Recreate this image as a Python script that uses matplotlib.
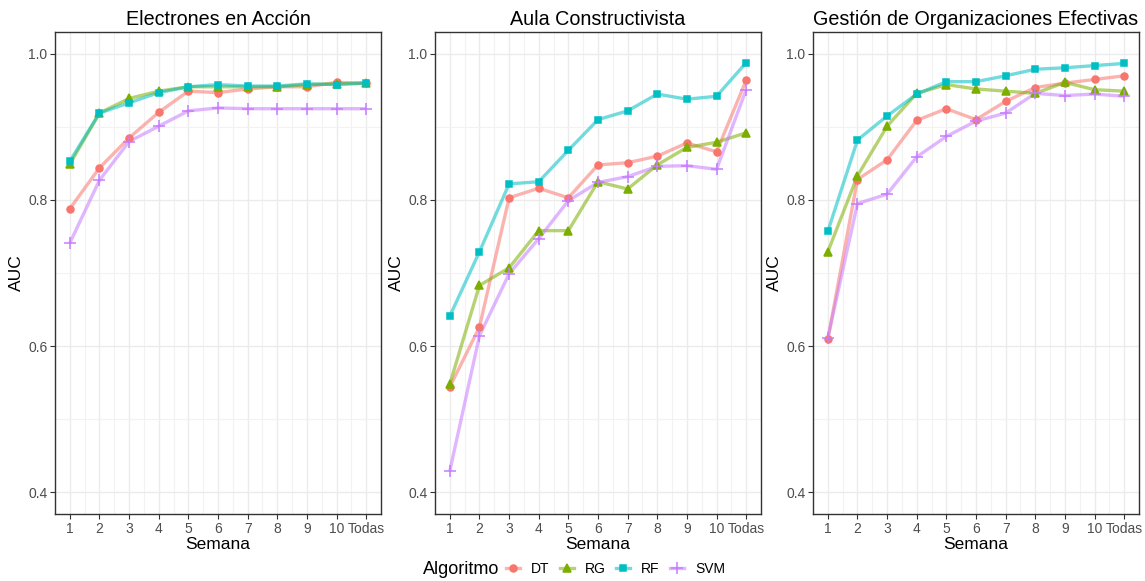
import numpy as np
import matplotlib.pyplot as plt
from matplotlib.lines import Line2D
from matplotlib.ticker import MultipleLocator

plt.rcParams['font.family'] = ['Liberation Sans', 'DejaVu Sans']

semanas = ['1', '2', '3', '4', '5', '6', '7', '8', '9', '10', 'Todas']
algoritmos = ['DT', 'RG', 'RF', 'SVM']
cursos = ['Electrones en Acción', 'Aula Constructivista', 'Gestión de Organizaciones Efectivas']

# AUC por semana, un bloque por curso
electrones_dt  = [0.788, 0.844, 0.885, 0.920, 0.949, 0.947, 0.952, 0.955, 0.955, 0.961, 0.960]
electrones_rg  = [0.849, 0.919, 0.939, 0.949, 0.955, 0.955, 0.955, 0.955, 0.958, 0.959, 0.960]
electrones_rf  = [0.853, 0.919, 0.933, 0.947, 0.955, 0.958, 0.956, 0.956, 0.959, 0.958, 0.960]
electrones_svm = [0.741, 0.827, 0.880, 0.901, 0.922, 0.926, 0.925, 0.925, 0.925, 0.925, 0.925]

aula_dt  = [0.544, 0.626, 0.803, 0.816, 0.803, 0.848, 0.851, 0.860, 0.878, 0.866, 0.964]
aula_rg  = [0.548, 0.683, 0.707, 0.758, 0.758, 0.825, 0.815, 0.848, 0.872, 0.879, 0.892]
aula_rf  = [0.641, 0.729, 0.822, 0.825, 0.868, 0.910, 0.922, 0.945, 0.938, 0.942, 0.988]
aula_svm = [0.429, 0.614, 0.699, 0.747, 0.799, 0.824, 0.832, 0.846, 0.847, 0.842, 0.951]

gestion_dt  = [0.609, 0.828, 0.855, 0.909, 0.925, 0.910, 0.935, 0.954, 0.960, 0.965, 0.970]
gestion_rg  = [0.729, 0.833, 0.901, 0.946, 0.958, 0.952, 0.949, 0.946, 0.961, 0.951, 0.949]
gestion_rf  = [0.757, 0.882, 0.915, 0.945, 0.962, 0.962, 0.970, 0.979, 0.981, 0.984, 0.987]
gestion_svm = [0.611, 0.795, 0.808, 0.859, 0.887, 0.908, 0.919, 0.946, 0.943, 0.945, 0.942]

datos = [
    [electrones_dt, electrones_rg, electrones_rf, electrones_svm],
    [aula_dt, aula_rg, aula_rf, aula_svm],
    [gestion_dt, gestion_rg, gestion_rf, gestion_svm],
]

colores = ['#F8766D', '#7CAE00', '#00BFC4', '#C77CFF']
marcadores = ['o', '^', 's', '+']
msizes = [5, 6, 5, 8.5]

fig = plt.figure(figsize=(11.45, 5.81), dpi=100)
W, H = 1145, 581
lefts = [55, 435, 813]
x = np.arange(1, len(semanas) + 1)

for k, left in enumerate(lefts):
    ax = fig.add_axes([left / W, 1 - 514 / H, 326 / W, (514 - 32) / H])
    ax.set_xlim(0.5, 11.5)
    ax.set_ylim(0.37, 1.03)
    ax.set_xticks(x)
    ax.set_xticklabels(semanas)
    ax.set_yticks([0.4, 0.6, 0.8, 1.0])
    ax.set_yticklabels(['0.4', '0.6', '0.8', '1.0'])
    ax.xaxis.set_minor_locator(MultipleLocator(0.5))
    ax.yaxis.set_minor_locator(MultipleLocator(0.1))
    ax.grid(which='major', color='#EBEBEB', lw=1.0)
    ax.grid(which='minor', color='#F2F2F2', lw=0.8)
    ax.set_axisbelow(True)
    ax.tick_params(which='major', length=3.5, width=0.8, color='#333333',
                   labelsize=10, labelcolor='#4D4D4D', pad=2)
    ax.tick_params(which='minor', length=0)
    for s in ax.spines.values():
        s.set_color('#333333')
        s.set_linewidth(1.0)
    for serie, c in zip(datos[k], colores):
        ax.plot(x, serie, color=c, lw=2.4, alpha=0.55, solid_capstyle='butt', zorder=2)
    for serie, c, m, ms in zip(datos[k], colores, marcadores, msizes):
        ax.plot(x, serie, ls='none', marker=m, color=c, ms=ms, mew=1.1, zorder=3)
    ax.set_title(cursos[k], fontsize=14.2, pad=5)
    ax.set_xlabel('Semana', fontsize=12.5, labelpad=1)
    ax.set_ylabel('AUC', fontsize=12.5, labelpad=3)

handles = []
for c, m, ms in zip(colores, marcadores, msizes):
    linea = Line2D([], [], color=c, lw=2.4, alpha=0.55)
    punto = Line2D([], [], ls='none', marker=m, color=c, ms=ms, mew=1.1)
    handles.append((linea, punto))

fig.text(423 / W, 1 - 569 / H, 'Algoritmo', fontsize=13, va='center', ha='left')
fig.legend(handles, algoritmos, loc='center left', bbox_to_anchor=(506 / W, 1 - 569 / H),
           ncol=4, frameon=False, handlelength=1.0, handletextpad=0.8,
           columnspacing=0.75, fontsize=10, borderaxespad=0, borderpad=0)

fig.savefig('out.png', dpi=100)
